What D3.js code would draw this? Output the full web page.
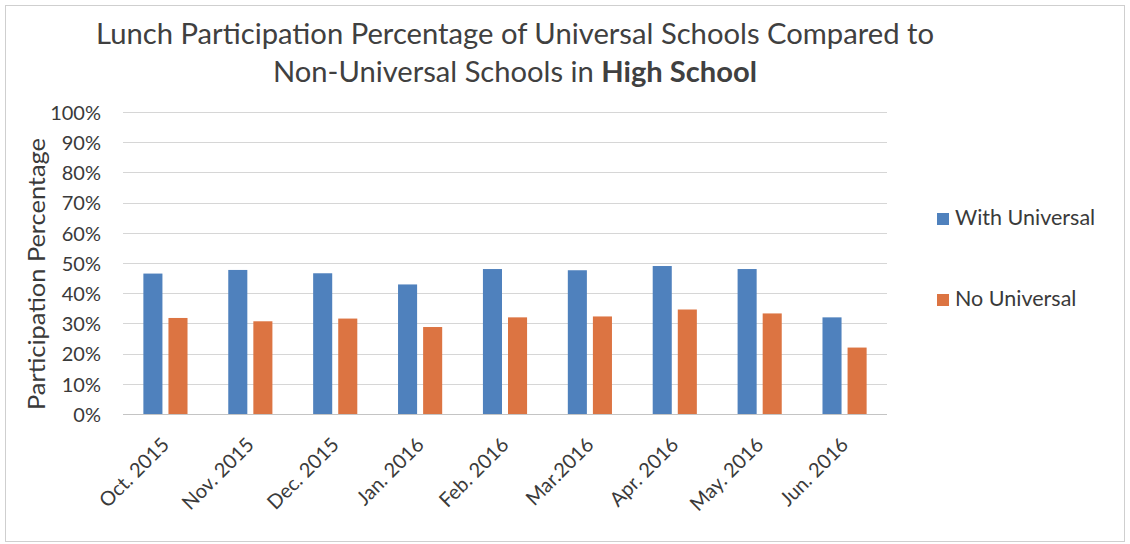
<!DOCTYPE html>
<html>
<head>
<meta charset="utf-8">
<script src="https://cdn.jsdelivr.net/npm/d3@7"></script>
<style>
  html, body { margin: 0; padding: 0; background: #ffffff; }
  svg { display: block; }
  text { font-family: Lato, "Open Sans", sans-serif; fill: #3a3a3a; }
</style>
</head>
<body>
<svg id="chart" width="1130" height="544"></svg>
<script>
// Monthly lunch participation, high schools
const months = ["Oct. 2015", "Nov. 2015", "Dec. 2015", "Jan. 2016", "Feb. 2016",
                "Mar.2016", "Apr. 2016", "May. 2016", "Jun. 2016"];
const seriesNames = ["With Universal", "No Universal"];
const withUniversal = [46.5, 47.7, 46.6, 42.9, 48.0, 47.6, 49.0, 48.0, 32.0];
const noUniversal   = [31.8, 30.7, 31.6, 28.8, 32.0, 32.3, 34.6, 33.3, 22.0];
const yTicks = [0, 10, 20, 30, 40, 50, 60, 70, 80, 90, 100];

const colors = { "With Universal": "#4f81bd", "No Universal": "#dc7442" };

const svg = d3.select("#chart");

// page frame
svg.append("rect")
  .attr("x", 5.5).attr("y", 5.5).attr("width", 1119).attr("height", 536)
  .attr("fill", "none").attr("stroke", "#cfcfcf").attr("stroke-width", 1);

const plot = { left: 123, right: 887, top: 112, bottom: 414 };

const x0 = d3.scaleBand().domain(months)
  .range([plot.left, plot.right]).paddingInner(0.48).paddingOuter(0.24);
const x1 = d3.scaleBand().domain(seriesNames)
  .range([0, x0.bandwidth()]).paddingInner(0.24).paddingOuter(0);
const y = d3.scaleLinear().domain([0, 100]).range([plot.bottom, plot.top]);

// title
const title = svg.append("text")
  .attr("text-anchor", "middle")
  .style("font-size", "28px").style("fill", "#404040");
title.append("tspan").attr("x", 515).attr("y", 44)
  .attr("textLength", 838).attr("lengthAdjust", "spacingAndGlyphs")
  .text("Lunch Participation Percentage of Universal Schools Compared to");
const t2 = svg.append("text")
  .attr("x", 515).attr("y", 82).attr("text-anchor", "middle")
  .attr("textLength", 484).attr("lengthAdjust", "spacingAndGlyphs")
  .style("font-size", "28px").style("fill", "#404040");
t2.append("tspan").text("Non-Universal Schools in ");
t2.append("tspan").style("font-weight", "bold").text("High School");

// gridlines
svg.append("g")
  .selectAll("line").data(yTicks.filter(d => d > 0)).join("line")
  .attr("x1", plot.left).attr("x2", plot.right)
  .attr("y1", d => Math.round(y(d)) + 0.5).attr("y2", d => Math.round(y(d)) + 0.5)
  .attr("stroke", "#d6d6d6").attr("stroke-width", 1);

// y axis labels
const yAxis = d3.axisLeft(y).tickValues(yTicks).tickFormat(d => d + "%").tickSize(0).tickPadding(0);
const yg = svg.append("g").attr("transform", `translate(${plot.left - 22},0)`).call(yAxis);
yg.select(".domain").remove();
yg.selectAll("text").style("font-size", "20px").style("font-family", "Lato, sans-serif")
  .attr("fill", "#3a3a3a").attr("dy", "0.36em");

// y axis title
svg.append("text")
  .attr("transform", "translate(45,274) rotate(-90)")
  .attr("text-anchor", "middle")
  .attr("textLength", 272).attr("lengthAdjust", "spacingAndGlyphs")
  .style("font-size", "23px")
  .text("Participation Percentage");

// bars
const rows = months.map((m, i) => ({ month: m, values: [
  { key: "With Universal", value: withUniversal[i] },
  { key: "No Universal", value: noUniversal[i] } ] }));

svg.append("g").selectAll("g").data(rows).join("g")
  .attr("transform", d => `translate(${x0(d.month)},0)`)
  .selectAll("rect").data(d => d.values).join("rect")
  .attr("x", d => x1(d.key))
  .attr("y", d => y(d.value))
  .attr("width", x1.bandwidth())
  .attr("height", d => y(0) - y(d.value))
  .attr("fill", d => colors[d.key]);

// baseline
svg.append("line")
  .attr("x1", plot.left).attr("x2", plot.right)
  .attr("y1", Math.round(y(0)) + 0.5).attr("y2", Math.round(y(0)) + 0.5)
  .attr("stroke", "#c4c4c4").attr("stroke-width", 1);

// x axis labels, rotated
const xAxis = d3.axisBottom(x0).tickSize(0).tickPadding(0);
const xg = svg.append("g").attr("transform", `translate(0,${plot.bottom})`).call(xAxis);
xg.select(".domain").remove();
xg.selectAll("text")
  .style("font-size", "20px").style("font-family", "Lato, sans-serif")
  .attr("fill", "#3a3a3a")
  .attr("text-anchor", "end")
  .attr("x", 0).attr("y", 0).attr("dy", 0)
  .attr("transform", "translate(5,32) rotate(-45)");

// legend
const legend = svg.append("g").selectAll("g").data(seriesNames).join("g")
  .attr("transform", (d, i) => `translate(937,${213 + i * 81})`);
legend.append("rect").attr("width", 12).attr("height", 12)
  .attr("fill", d => colors[d]);
legend.append("text").attr("x", 18).attr("y", 12)
  .style("font-size", "21.5px").text(d => d);
</script>
</body>
</html>
